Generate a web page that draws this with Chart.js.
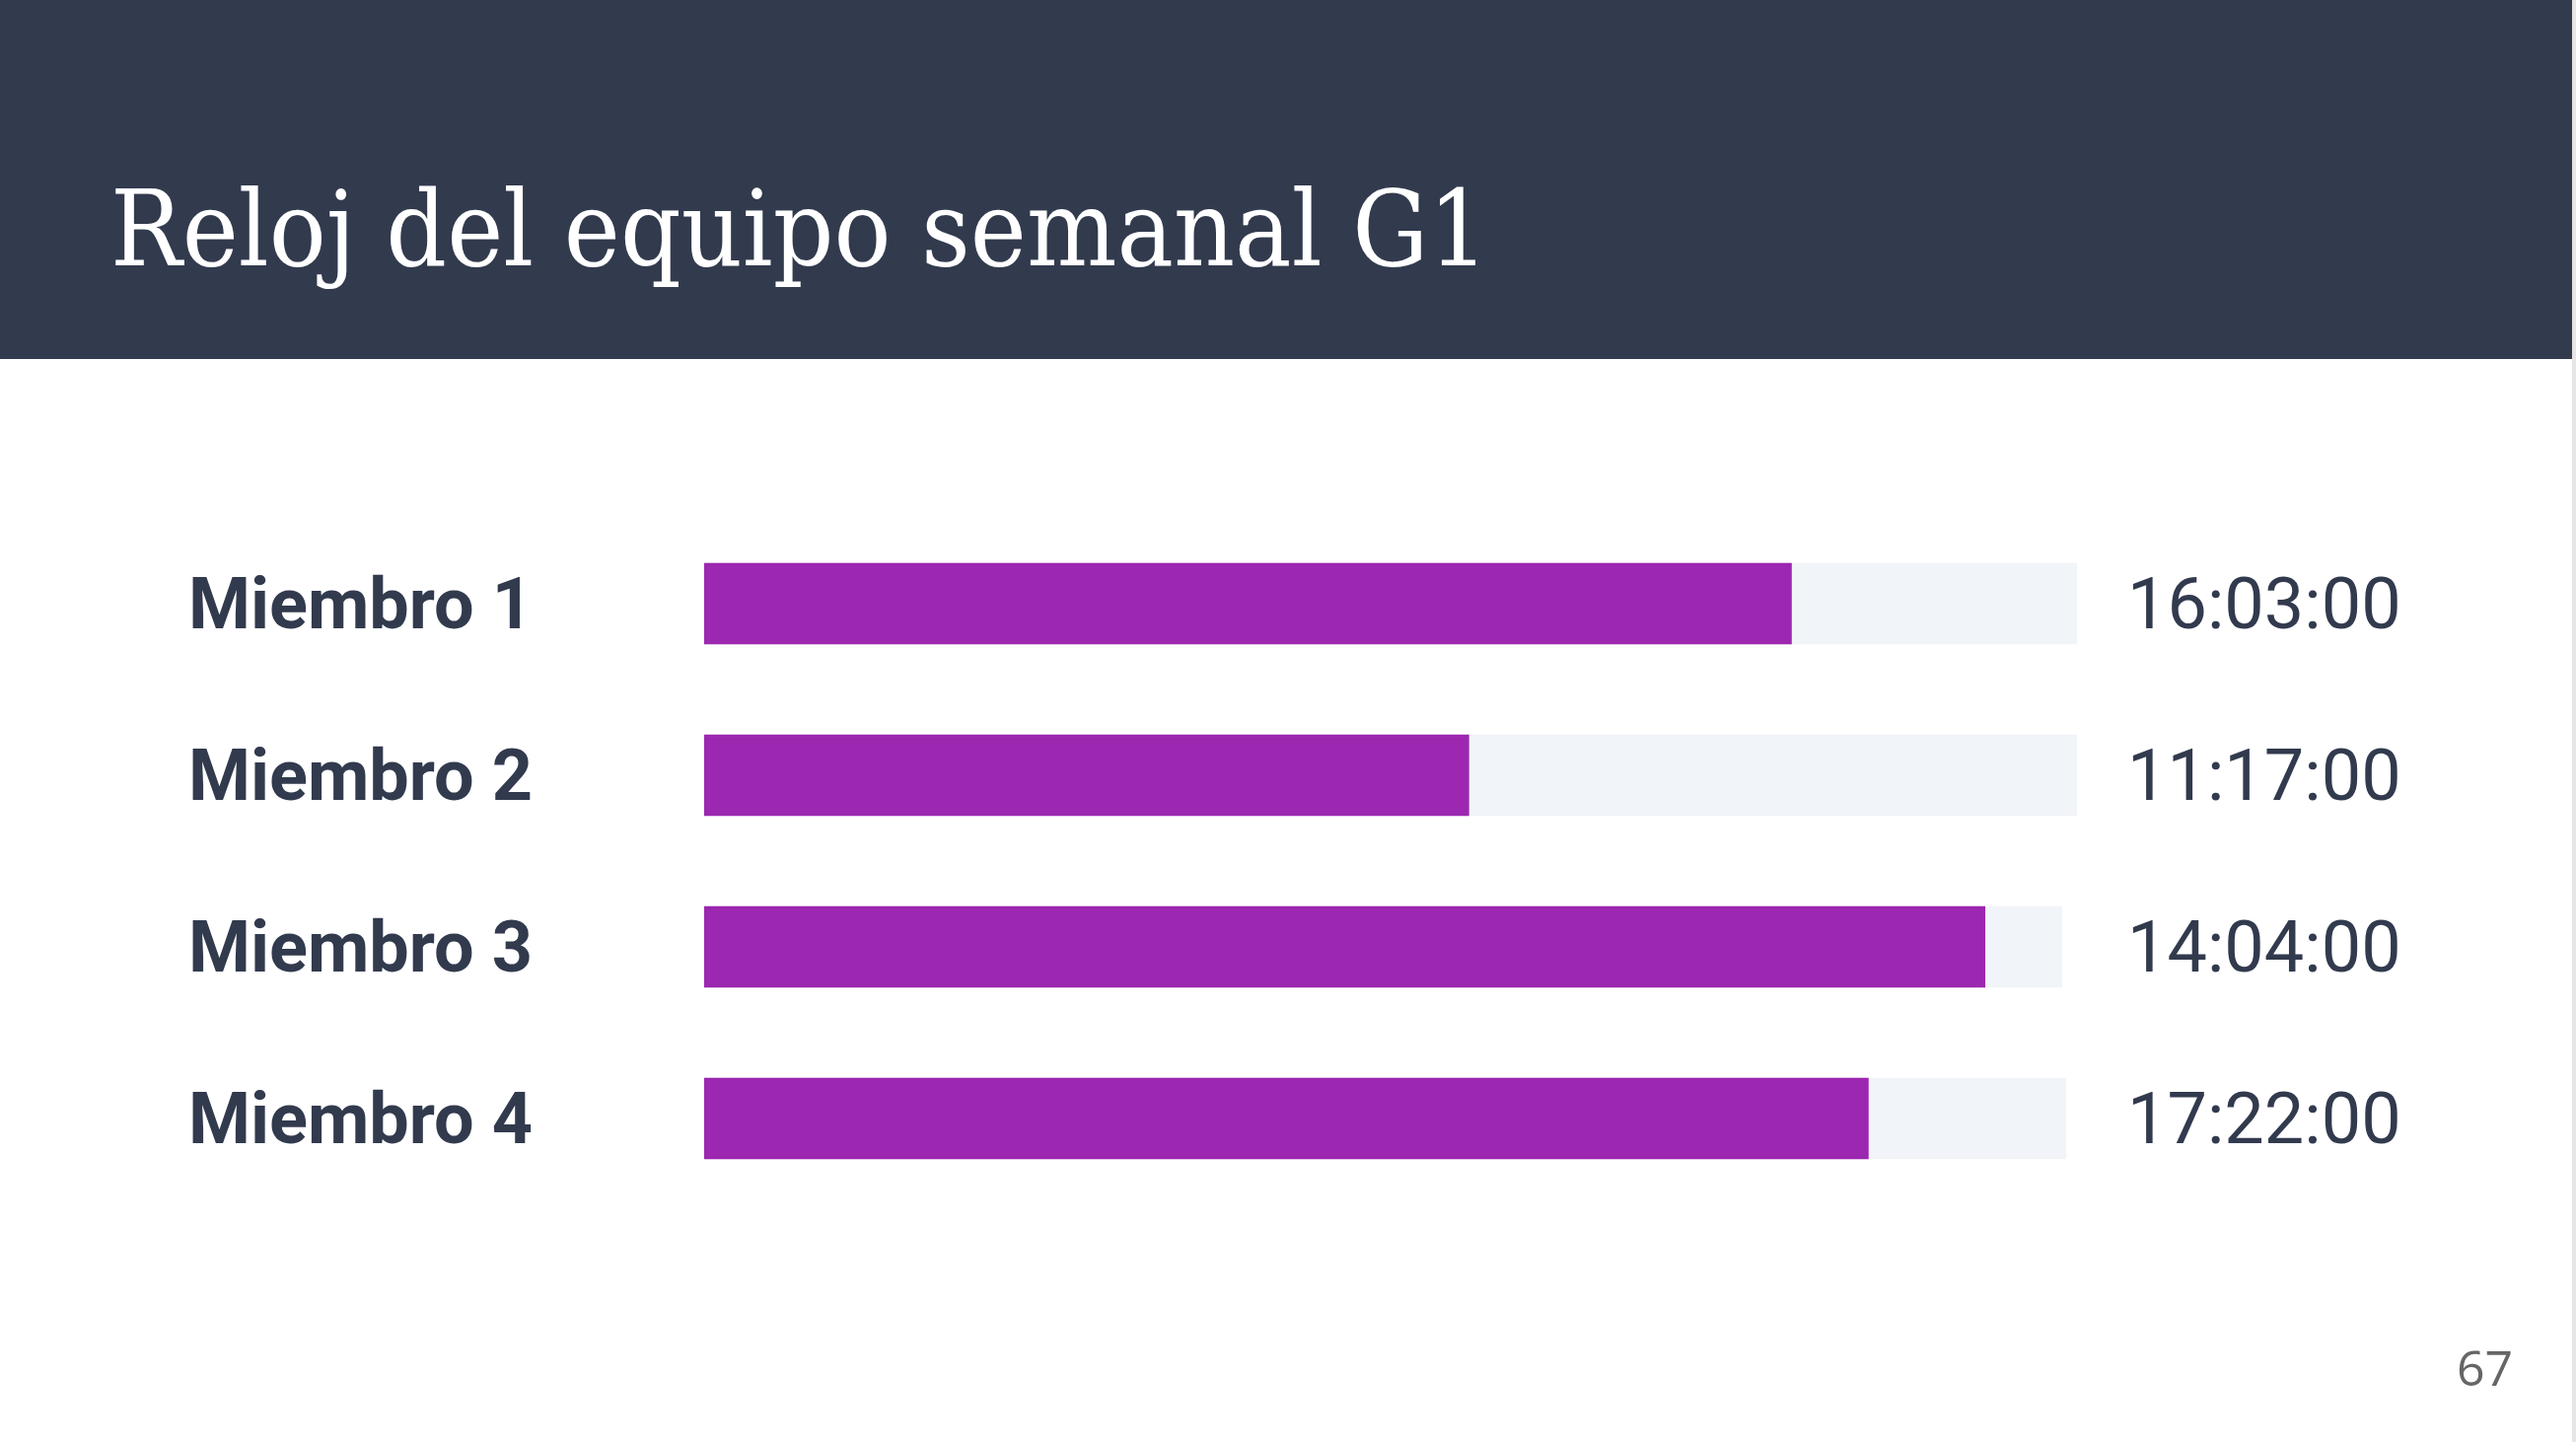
<!DOCTYPE html>
<html><head><meta charset="utf-8">
<script src="https://cdn.jsdelivr.net/npm/chart.js@4.4.1/dist/chart.umd.min.js"></script>
<style>
html,body{margin:0;padding:0;background:#fff;width:2612px;height:1462px;overflow:hidden;}
#header{position:absolute;left:0;top:0;width:2608px;height:364px;background:#323a4e;}
#edge{position:absolute;left:2608px;top:0;width:4px;height:1462px;background:#e6e6e6;}
.txt{position:absolute;white-space:nowrap;transform-origin:0 0;margin:0;}
#title{color:#fff;font-family:"DejaVu Serif";font-size:106px;line-height:106px;}
#page{color:#666;font-family:"Open Sans";font-size:50px;line-height:50px;}
#wrap{position:absolute;left:0;top:0;width:2612px;height:1462px;}
</style></head>
<body>
<div id="header"></div>
<div id="edge"></div>
<div id="title" class="txt">Reloj del equipo semanal G1</div>
<div id="page" class="txt">67</div>
<div id="wrap"><canvas id="c" width="2612" height="1462"></canvas></div>
<script>
const members = ['Miembro 1', 'Miembro 2', 'Miembro 3', 'Miembro 4'];
const hoursLabels = ['16:03:00', '11:17:00', '14:04:00', '17:22:00'];
const progress = [79.2, 55.7, 93.3, 84.8];
const track = [100, 100, 98.9, 99.2];

function placeText(el, font, visLeft, baseline, targetWidth) {
  const ctx = document.createElement('canvas').getContext('2d');
  ctx.font = font;
  const m = ctx.measureText(el.textContent);
  let s = 1;
  if (targetWidth) s = targetWidth / (m.actualBoundingBoxLeft + m.actualBoundingBoxRight);
  const a = m.fontBoundingBoxAscent, d = m.fontBoundingBoxDescent;
  const L = parseFloat(getComputedStyle(el).lineHeight);
  const top = baseline - ((L - (a + d)) / 2 + a);
  el.style.left = (visLeft + m.actualBoundingBoxLeft * s) + 'px';
  el.style.top = top + 'px';
  if (s !== 1) el.style.transform = 'scaleX(' + s + ')';
}

function build() {
  placeText(document.getElementById('title'), '106px "DejaVu Serif"', 117, 269, 1380);
  placeText(document.getElementById('page'), '50px "Open Sans"', 2493, 1405);

  new Chart(document.getElementById('c'), {
    type: 'bar',
    data: {
      labels: members,
      datasets: [
        { data: progress, backgroundColor: '#9c27b0', barThickness: 82, grouped: false, order: 0, borderWidth: 0 },
        { data: track, backgroundColor: '#f1f4f8', barThickness: 82, grouped: false, order: 1, borderWidth: 0 }
      ]
    },
    options: {
      indexAxis: 'y',
      responsive: false,
      animation: false,
      devicePixelRatio: 1,
      layout: { padding: { left: 191, right: 0, top: 525, bottom: 241 } },
      plugins: { legend: { display: false }, tooltip: { enabled: false }, title: { display: false } },
      scales: {
        x: { display: false, min: 0, max: 100 },
        y: {
          type: 'category',
          position: 'left',
          offset: true,
          border: { display: false },
          grid: { display: false, drawTicks: false },
          ticks: { crossAlign: 'far', padding: 0, labelOffset: 7, color: '#323a4e', font: { family: 'Roboto', weight: 'bold', size: 72 } },
          afterFit: (s) => { s.width = 714 - 191; }
        },
        y2: {
          type: 'category',
          labels: hoursLabels,
          position: 'right',
          offset: true,
          border: { display: false },
          grid: { display: false, drawTicks: false },
          ticks: { crossAlign: 'near', padding: 51, labelOffset: 7, color: '#323a4e', font: { family: 'Roboto', weight: 'normal', size: 72 } },
          afterFit: (s) => { s.width = 2612 - 2106; }
        }
      }
    }
  });
}
Promise.all([
  document.fonts.load('bold 72px Roboto'),
  document.fonts.load('72px Roboto'),
  document.fonts.load('106px "DejaVu Serif"'),
  document.fonts.load('50px "Open Sans"')
]).then(build, build);
</script>
</body></html>
